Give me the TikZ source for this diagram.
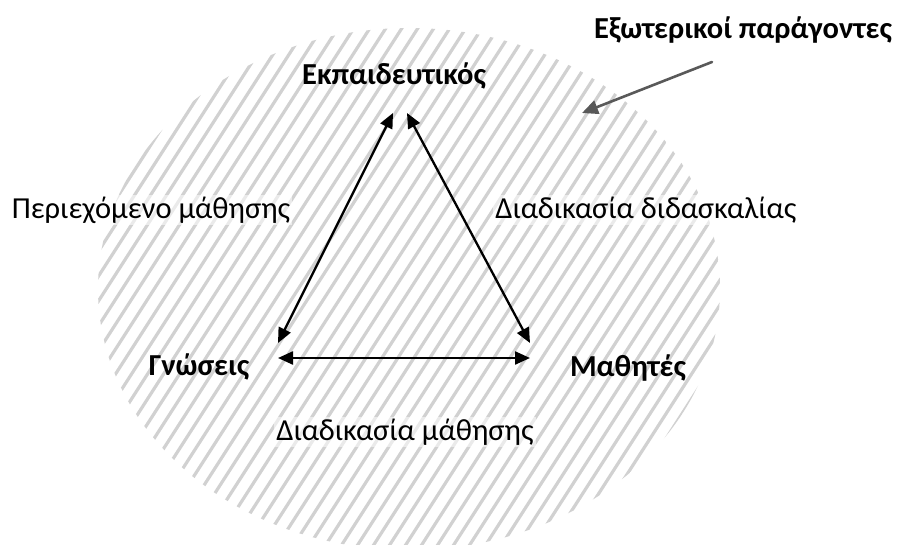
\documentclass[tikz,border=0pt]{standalone}
\usepackage{fontspec}
\setmainfont{Carlito}
\usetikzlibrary{arrows.meta}

\begin{document}
\begin{tikzpicture}[x=1pt, y=-1pt, line cap=round,
    corner/.style={font=\fontsize{30.5}{36}\selectfont\bfseries, inner sep=0pt},
    flow/.style={font=\fontsize{30.5}{36}\selectfont, inner sep=2pt, fill=white, fill opacity=0.55, text opacity=1},
    link/.style={line width=2.3pt, {Triangle[length=15pt,width=13pt]}-{Triangle[length=15pt,width=13pt]}},
    outside/.style={line width=2.6pt, draw=black!65, -{Triangle[length=16pt,width=14pt]}}]
  %% ════ διαγραμμισμένη έλλειψη (περιβάλλον) ════
  \begin{scope}
    \clip (409,289) ellipse [x radius=311, y radius=261];
    \foreach \hx in {-420,-404,...,1200}
      \draw[line width=3.2pt, draw=black!18] (\hx,560) -- (\hx+360,0);
  \end{scope}

  %% ════ κορυφές του τριγώνου ════
  \node[corner] (teacher)  at (394,76)  {Εκπαιδευτικός};
  \node[corner] (know)     at (199,367) {Γνώσεις};
  \node[corner] (students) at (628,368) {Μαθητές};

  %% άκρα των βελών (ελαφρώς έξω από τα κείμενα)
  \coordinate (tl) at (393,113);
  \coordinate (tr) at (407,113);
  \coordinate (bl) at (278,343);
  \coordinate (br) at (530,343);
  \coordinate (hl) at (278,358);
  \coordinate (hr) at (530,358);

  \draw[link] (bl) -- (tl);
  \draw[link] (tr) -- (br);
  \draw[link] (hl) -- (hr);

  %% ════ ετικέτες πλευρών ════
  \node[flow] (content) at (151,210) {Περιεχόμενο μάθησης};
  \node[flow] (teach)   at (646,210) {Διαδικασία διδασκαλίας};
  \node[flow] (learn)   at (405,432) {Διαδικασία μάθησης};

  %% ════ εξωτερικοί παράγοντες ════
  \node[corner] (ext) at (743,30) {Εξωτερικοί παράγοντες};
  \coordinate (ext-from) at (712,62);
  \coordinate (ext-to)   at (582,113);
  \draw[outside] (ext-from) -- (ext-to);

  % σταθερό πλαίσιο
  \pgfresetboundingbox
  \path[use as bounding box] (0,0) rectangle (903,545);
\end{tikzpicture}
\end{document}
